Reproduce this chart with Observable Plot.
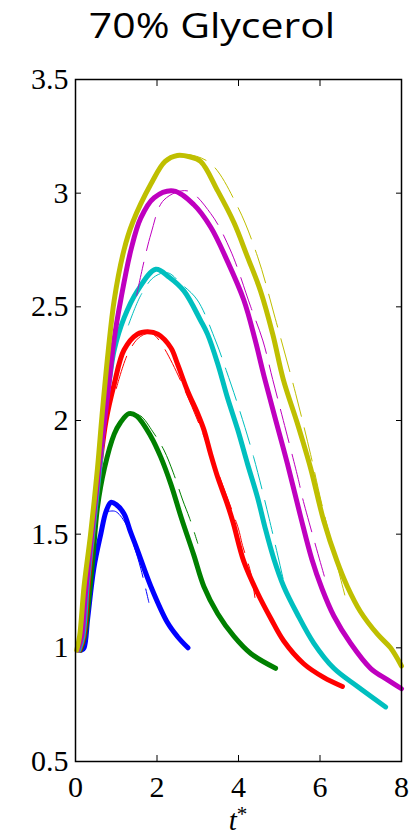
<!DOCTYPE html>
<html><head><meta charset="utf-8">
<script src="https://cdn.jsdelivr.net/npm/d3@7"></script>
<script src="https://cdn.jsdelivr.net/npm/@observablehq/plot@0.6"></script>
<style>
html,body{margin:0;padding:0;background:#fff;}
#title{height:62px;width:420px;position:relative;overflow:visible;}
#title span{position:absolute;left:212px;top:0px;transform:translateX(-50%) scaleX(1.17);transform-origin:center;font-family:"Open Sans",sans-serif;font-size:35px;line-height:50px;color:#000;white-space:nowrap;}
svg{display:block;}
</style></head><body>
<div id="title"><span>70% Glycerol</span></div>
<div id="chart"></div>
<script>
const chartTitle = "70% Glycerol";
const xLabel = "t";
const xLabelSup = "*";
const xTicks = [0, 2, 4, 6, 8];
const yTicks = [0.5, 1, 1.5, 2, 2.5, 3, 3.5];

// thick curves [t*, value]
const blue = [[0.15,0.99],[0.21,1.0],[0.3,1.13],[0.45,1.35],[0.62,1.5],[0.75,1.6],[0.87,1.64],[1.0,1.63],[1.19,1.59],[1.35,1.51],[1.52,1.43],[1.85,1.27],[2.26,1.11],[2.5,1.05],[2.76,1.0]];
const green = [[0.12,0.99],[0.22,1.05],[0.32,1.2],[0.42,1.38],[0.54,1.62],[0.71,1.79],[0.95,1.94],[1.1,1.99],[1.31,2.03],[1.5,2.02],[1.85,1.93],[2.09,1.84],[2.34,1.72],[2.6,1.57],[2.9,1.41],[3.15,1.27],[3.49,1.15],[3.89,1.05],[4.3,0.975],[4.91,0.91]];
const red = [[0.1,0.99],[0.2,1.05],[0.32,1.3],[0.45,1.55],[0.6,1.8],[0.75,2.0],[0.95,2.16],[1.19,2.31],[1.52,2.38],[1.77,2.39],[2.02,2.38],[2.34,2.32],[2.5,2.25],[2.75,2.13],[3.0,2.03],[3.15,1.96],[3.32,1.85],[3.49,1.75],[3.73,1.63],[3.87,1.55],[4.13,1.38],[4.47,1.24],[4.79,1.13],[5.11,1.03],[5.6,0.93],[6.09,0.87],[6.55,0.83]];
const cyan = [[0.08,0.99],[0.18,1.05],[0.3,1.3],[0.45,1.55],[0.6,1.8],[0.72,2.04],[0.85,2.2],[0.95,2.31],[1.19,2.45],[1.52,2.57],[1.97,2.665],[2.3,2.63],[2.66,2.57],[3.07,2.44],[3.24,2.38],[3.49,2.25],[3.73,2.1],[3.98,1.96],[4.22,1.81],[4.47,1.66],[4.65,1.53],[4.87,1.39],[5.11,1.27],[5.44,1.15],[5.85,1.02],[6.34,0.91],[6.92,0.83],[7.61,0.74]];
const magenta = [[0.05,0.99],[0.15,1.05],[0.25,1.25],[0.4,1.5],[0.58,1.8],[0.7,1.98],[0.82,2.16],[0.95,2.36],[1.11,2.53],[1.36,2.75],[1.6,2.89],[1.93,2.98],[2.4,3.01],[2.9,2.95],[3.32,2.85],[3.73,2.7],[4.13,2.53],[4.4,2.36],[4.62,2.2],[4.87,2.03],[5.2,1.81],[5.52,1.58],[5.8,1.39],[6.05,1.26],[6.34,1.14],[6.75,1.02],[7.24,0.91],[7.65,0.86],[8.0,0.82]];
const olive = [[0.03,0.99],[0.1,1.05],[0.21,1.27],[0.37,1.5],[0.54,1.79],[0.65,2.02],[0.8,2.3],[0.95,2.53],[1.19,2.75],[1.4,2.87],[1.85,3.04],[2.2,3.14],[2.5,3.166],[2.8,3.16],[3.07,3.14],[3.49,3.01],[3.89,2.87],[4.22,2.72],[4.54,2.57],[4.84,2.38],[5.1,2.18],[5.44,1.99],[5.77,1.79],[6.09,1.56],[6.42,1.38],[6.67,1.27],[6.99,1.16],[7.41,1.06],[7.73,1.0],[8.0,0.92]];

// thin companion curves
const blueThin = [[0.8,1.6],[0.98,1.6],[1.22,1.55],[1.45,1.44],[1.6,1.35],[1.8,1.2]];
const greenThin = [[1.4,2.03],[1.6,2.02],[1.9,1.95],[2.17,1.87],[2.4,1.77],[2.63,1.65],[2.8,1.57],[3.0,1.46]];
const redThin = [[1.0,2.14],[1.3,2.3],[1.6,2.37],[1.9,2.38],[3.95,1.55],[4.1,1.45],[4.3,1.33],[4.42,1.2]];
const cyanThin = [[1.3,2.42],[1.6,2.55],[1.92,2.63],[2.26,2.65],[2.6,2.6],[2.99,2.53],[3.44,2.35],[3.7,2.22],[4.0,2.06],[4.37,1.84],[4.75,1.57],[5.1,1.3]];
const magentaThin = [[1.5,2.55],[1.85,2.82],[2.17,2.97],[2.75,3.01],[3.32,2.91],[3.8,2.75],[4.3,2.5],[4.6,2.35],[4.84,2.18],[5.1,2.0],[5.47,1.74],[5.57,1.66],[6.13,1.3]];
const oliveThin = [[2.4,3.16],[2.75,3.17],[3.32,3.13],[3.98,2.94],[4.47,2.72],[4.9,2.45],[5.4,2.12],[5.77,1.85],[6.06,1.62],[6.67,1.19]];

const seriesNames = ["blue", "green", "red", "cyan", "magenta", "olive"];
const seriesColors = ["#0000ff", "#008000", "#ff0000", "#00bfbf", "#bf00bf", "#bfbf00"];
const thickData = [blue, green, red, cyan, magenta, olive];
const thinData = [blueThin, greenThin, redThin, cyanThin, magentaThin, oliveThin];

function toRows(arrs) {
  const rows = [];
  arrs.forEach((arr, i) => arr.forEach(([t, v]) => rows.push({s: seriesNames[i], c: seriesColors[i], t, v})));
  return rows;
}
const thickRows = toRows(thickData);
const thinRows = toRows(thinData);

const plot = Plot.plot({
  width: 420,
  height: 774,
  marginTop: 17,
  marginBottom: 75,
  marginLeft: 75,
  marginRight: 19,
  x: {domain: [0, 8]},
  y: {domain: [0.5, 3.5]},
  color: {type: "identity"},
  style: {fontFamily: "'Liberation Serif', serif", fontSize: "30px", color: "#000", background: "#fff"},
  marks: [
    Plot.axisX(xTicks, {anchor: "bottom", tickSize: -6, tickPadding: 20, label: null, fontSize: 30, tickFormat: d => String(d)}),
    Plot.axisX(xTicks, {anchor: "top", tickSize: -6, fill: "none", label: null}),
    Plot.axisY(yTicks, {anchor: "left", tickSize: -6, tickPadding: 13, label: null, fontSize: 30, tickFormat: d => String(d)}),
    Plot.axisY(yTicks, {anchor: "right", tickSize: -6, fill: "none", label: null}),
    Plot.line(thickRows, {x: "t", y: "v", z: "s", stroke: "c", strokeWidth: 5, curve: "catmull-rom"}),
    Plot.line(thinRows, {x: "t", y: "v", z: "s", stroke: "c", strokeWidth: 1, strokeDasharray: "34,12", curve: "catmull-rom"}),
    Plot.frame({stroke: "#000", strokeWidth: 1.5})
  ]
});
document.getElementById("chart").appendChild(plot);

const xs = plot.scale("x");
const svg = d3.select(plot);
const lab = svg.append("text")
  .attr("x", xs.apply(4))
  .attr("y", 767.5)
  .attr("text-anchor", "middle")
  .attr("font-family", "'Liberation Serif', serif")
  .attr("font-style", "italic")
  .attr("font-size", 29)
  .attr("fill", "#000");
lab.append("tspan").text(xLabel);
lab.append("tspan").attr("dy", -9).attr("font-size", 21).attr("font-style", "normal").text(xLabelSup);
</script>
</body></html>
